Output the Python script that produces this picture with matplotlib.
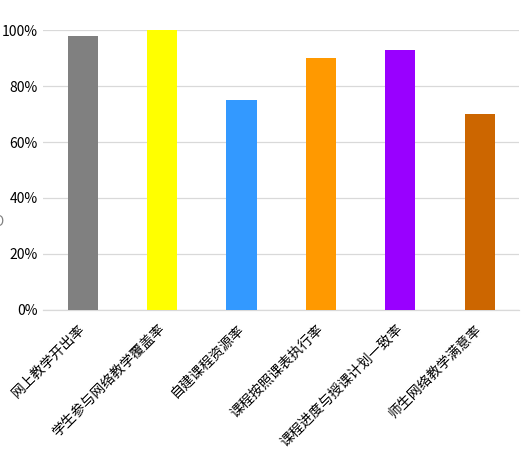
import matplotlib
matplotlib.use("Agg")
import matplotlib.pyplot as plt
from matplotlib.ticker import PercentFormatter

plt.rcParams['font.family'] = ['Noto Sans CJK SC', 'DejaVu Sans']

categories = ["网上教学开出率", "学生参与网络教学覆盖率", "自建课程资源率",
              "课程按照课表执行率", "课程进度与授课计划一致率", "师生网络教学满意率"]
values = [98, 100, 75, 90, 93, 70]
colors = ["#808080", "#FFFF00", "#3399FF", "#FF9900", "#9900FF", "#CC6600"]

fig = plt.figure(figsize=(5.22, 4.54), dpi=100)
ax = fig.add_axes([0.0824, 0.3172, 0.9126, 0.6167])

x = range(len(categories))
ax.bar(x, values, width=0.38, color=colors, zorder=3)

ax.set_xlim(-0.5, len(categories) - 0.5)
ax.set_ylim(0, 100)
ax.set_yticks([0, 20, 40, 60, 80, 100])
ax.yaxis.set_major_formatter(PercentFormatter(decimals=0))
ax.grid(axis="y", color="#D9D9D9", linewidth=0.9, zorder=0)

ax.set_xticks(list(x))
ax.set_xticklabels(categories, rotation=45, ha="right", va="center",
                   rotation_mode="anchor", fontsize=10)
ax.tick_params(axis="both", length=0, labelsize=10)
ax.tick_params(axis="x", pad=12)
ax.tick_params(axis="y", pad=4)

for s in ["top", "right", "left"]:
    ax.spines[s].set_visible(False)
ax.spines["bottom"].set_color("#D9D9D9")
ax.spines["bottom"].set_linewidth(0.9)

# partly cut-off glyph at the left edge
fig.text(-0.012, 0.51, "O", fontsize=10, color="#808080", ha="left", va="center")

fig.savefig("out.png", dpi=100)
